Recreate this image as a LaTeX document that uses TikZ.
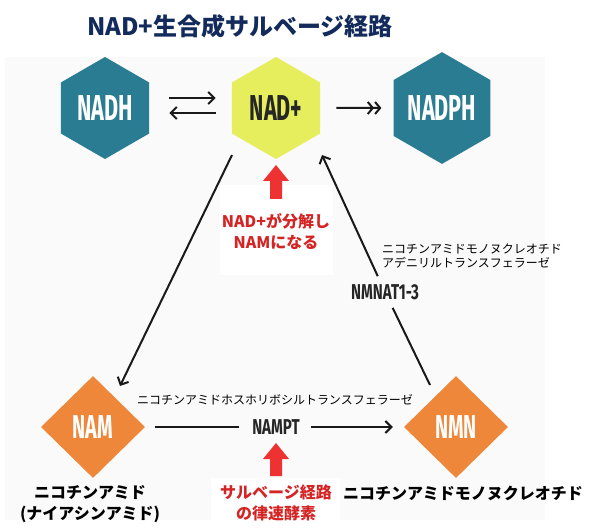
\documentclass[tikz,border=0pt]{standalone}
\usepackage{fontspec}
\setmainfont{Noto Sans CJK JP}
\newfontfamily\condfont[FakeStretch=0.7]{Fira Sans}
\newfontfamily\tallfont[FakeStretch=0.6]{Fira Sans}
\usepackage{tikz}
\usetikzlibrary{shapes.geometric,arrows.meta}

\definecolor{hexteal}{HTML}{2A7C92}
\definecolor{hexyellow}{HTML}{E6EE5E}
\definecolor{diaorange}{HTML}{EE873A}
\definecolor{arrowred}{HTML}{EE3232}
\definecolor{textred}{HTML}{D42424}
\definecolor{titleblue}{HTML}{122A5C}

\tikzset{
  hexa/.style={regular polygon, regular polygon sides=6, shape border rotate=30,
    minimum size=102pt, inner sep=0pt, font=\tallfont\bfseries\fontsize{36}{36}\selectfont},
  dia/.style={diamond, fill=diaorange, minimum width=104pt, minimum height=102pt,
    inner sep=0pt, text=white, font=\tallfont\bfseries\fontsize{33}{33}\selectfont},
  enz/.style={inner sep=8pt, text=black!85, font=\condfont\bfseries\fontsize{21.5}{22}\selectfont},
  small/.style={align=left, font=\fontsize{12}{13.5}\selectfont},
  lbl/.style={align=center, font=\bfseries\fontsize{16}{21}\selectfont},
  redlbl/.style={lbl, text=textred},
  conn/.style={line width=2pt, black!90},
  tip/.style={-{Straight Barb[length=6pt,width=12pt]}}
}

\begin{document}
\begin{tikzpicture}[x=1pt,y=-1pt]
\useasboundingbox (0,0) rectangle (598,532);

% Background
\fill[black!2] (5,57) rectangle (545,520);
\fill[white] (220,185) rectangle (333,275);
\fill[white] (211,478) rectangle (340,532);

% Title
\node[font=\bfseries\fontsize{24}{26}\selectfont, text=titleblue] (title) at (240,26) {NAD+生合成サルベージ経路};

% Hexagons
\node[hexa, fill=hexteal, text=white] (nadh) at (105,108) {NADH};
\node[hexa, fill=hexyellow, text=black!85] (nad) at (276,108) {NAD+};
\node[hexa, fill=hexteal, text=white] (nadph) at (442,108) {NADPH};

% Diamonds
\node[dia] (nam) at (93,427) {NAM};
\node[dia] (nmn) at (456,427) {NMN};

% Names
\node[lbl] (namname) at (90,504) {ニコチンアミド\\(ナイアシンアミド)};
\node[lbl] (nmnname) at (463,493) {ニコチンアミドモノヌクレオチド};

% Enzymes
\node[enz] (nampt) at (276,427) {NAMPT};
\node[small] (namptjp) at (275,400) {ニコチンアミドホスホリボシルトランスフェラーゼ};
\node[enz] (nmnat) at (385,292) {NMNAT1-3};
\node[small] (nmnatjp) at (472,256) {ニコチンアミドモノヌクレオチド\\アデニリルトランスフェラーゼ};

% Red notes
\node[redlbl] (cleave) at (276,232) {NAD+が分解し\\NAMになる};
\node[redlbl] (ratelim) at (276,503) {サルベージ経路\\の律速酵素};
\fill[arrowred, shift={(276,165)}] (0,0) -- (13,16) -- (6,16) -- (6,34) -- (-6,34) -- (-6,16) -- (-13,16) -- cycle;
\fill[arrowred, shift={(276,443)}] (0,0) -- (13,16) -- (6,16) -- (6,33) -- (-6,33) -- (-6,16) -- (-13,16) -- cycle;

% Top arrows
\draw[conn, tip] ([shift={(20,-10)}]nadh.east) -- ([shift={(-16,-10)}]nad.west);
\draw[conn, tip] ([shift={(-16,5)}]nad.west) -- ([shift={(20,5)}]nadh.east);
\draw[conn, -{Straight Barb[length=5pt,width=12pt] Straight Barb[length=5pt,width=12pt]}]
  ([xshift=16]nad.east) -- ([xshift=-12]nadph.west);

% Cycle
\draw[conn, tip] ([shift={(-44,47)}]nad.center) -- ([shift={(27,-41)}]nam.center);
\draw[conn, shorten <=10pt, shorten >=5pt] (nam) -- (nampt);
\draw[conn, tip, shorten <=3pt, shorten >=11pt] (nampt) -- (nmn);
\draw[conn] ([shift={(-26,-42)}]nmn.center) -- (nmnat);
\draw[conn, tip] (nmnat) -- ([shift={(46,47)}]nad.center);

\end{tikzpicture}
\end{document}
